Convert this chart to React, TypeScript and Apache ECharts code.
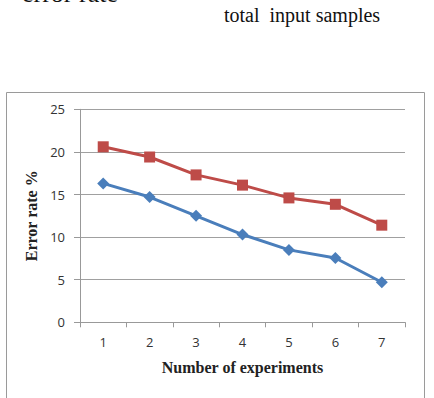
import React, { useEffect, useRef } from "react";
import * as echarts from "echarts";

const categories = ["1", "2", "3", "4", "5", "6", "7"];
const blueSeries = [16.3, 14.7, 12.5, 10.3, 8.5, 7.55, 4.7];
const redSeries = [20.6, 19.4, 17.3, 16.1, 14.6, 13.85, 11.4];
const yTicks = { min: 0, max: 25, interval: 5 };

export default function App() {
  const ref = useRef<HTMLDivElement>(null);
  useEffect(() => {
    const chart = echarts.init(ref.current!, null, { renderer: "svg" });
    const labelFont = "'Open Sans', 'Liberation Sans', sans-serif";
    const serif = "'Liberation Serif', 'DejaVu Serif', serif";
    chart.setOption({
      animation: false,
      backgroundColor: "#ffffff",
      graphic: [
        {
          type: "rect",
          shape: { x: 6.5, y: 92.5, width: 418, height: 330 },
          style: { fill: "none", stroke: "#9a9a9a", lineWidth: 1 },
          silent: true,
        },
        {
          type: "text",
          x: 22,
          y: -7,
          style: {
            text: "error rate",
            font: `26px ${serif}`,
            fill: "#111",
            textVerticalAlign: "middle",
          },
        },
        {
          type: "text",
          x: 224,
          y: 15,
          style: {
            text: "total  input samples",
            font: `20px ${serif}`,
            fill: "#111",
            textVerticalAlign: "middle",
          },
        },
      ],
      grid: { left: 80, right: 29, top: 109.3, bottom: 75.7 },
      xAxis: {
        type: "category",
        data: categories,
        boundaryGap: true,
        name: "Number of experiments",
        nameLocation: "middle",
        nameGap: 37,
        nameTextStyle: { fontFamily: serif, fontWeight: "bold", fontSize: 16, color: "#222" },
        axisLine: { lineStyle: { color: "#999", width: 1 } },
        axisTick: { show: true, length: 5, lineStyle: { color: "#999" } },
        axisLabel: { fontFamily: labelFont, fontSize: 13, color: "#333", margin: 13 },
      },
      yAxis: {
        type: "value",
        min: yTicks.min,
        max: yTicks.max,
        interval: yTicks.interval,
        name: "Error rate %",
        nameLocation: "middle",
        nameGap: 38,
        nameRotate: 90,
        nameTextStyle: { fontFamily: serif, fontWeight: "bold", fontSize: 16, color: "#222" },
        axisLine: { show: true, lineStyle: { color: "#999", width: 1 } },
        axisTick: { show: true, length: 6, lineStyle: { color: "#999" } },
        axisLabel: { fontFamily: labelFont, fontSize: 13, color: "#333", margin: 15 },
        splitLine: { lineStyle: { color: "#a0a0a0", width: 1 } },
      },
      series: [
        {
          type: "line",
          data: blueSeries,
          symbol: "diamond",
          symbolSize: 12,
          lineStyle: { color: "#4a7ebb", width: 3 },
          itemStyle: { color: "#4a7ebb" },
        },
        {
          type: "line",
          data: redSeries,
          symbol: "rect",
          symbolSize: 11,
          lineStyle: { color: "#be4b48", width: 3 },
          itemStyle: { color: "#be4b48" },
        },
      ],
    });
    return () => chart.dispose();
  }, []);
  return (
    <div
      ref={ref}
      style={{ position: "fixed", left: 0, top: 0, width: 434, height: 398 }}
    />
  );
}
